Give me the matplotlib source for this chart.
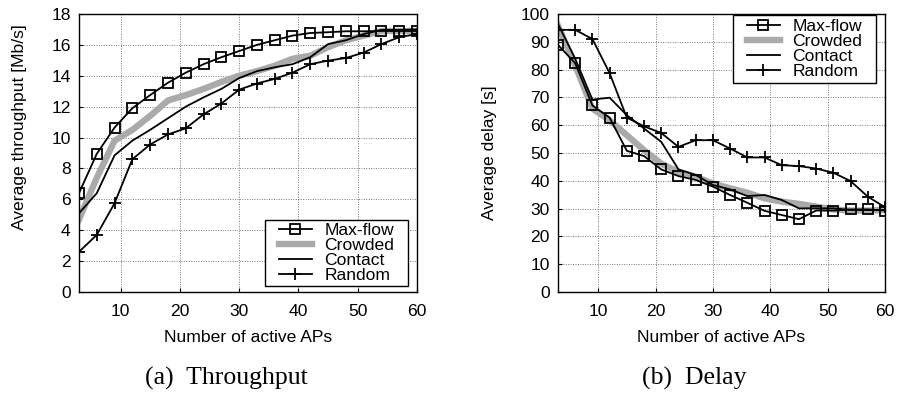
import matplotlib
matplotlib.use("Agg")
import matplotlib.pyplot as plt
from matplotlib.patches import Rectangle

x_aps = [3, 6, 9, 12, 15, 18, 21, 24, 27, 30, 33, 36, 39, 42, 45, 48, 51, 54, 57, 60]

thr_maxflow = [6.4, 8.95, 10.65, 11.9, 12.75, 13.55, 14.2, 14.75, 15.2, 15.6, 16.0, 16.3, 16.6, 16.77, 16.82, 16.88, 16.88, 16.9, 16.9, 16.9]
thr_crowded = [4.7, 7.4, 9.8, 10.5, 11.4, 12.4, 12.75, 13.15, 13.6, 14.0, 14.3, 14.65, 15.1, 15.3, 15.85, 16.3, 16.6, 16.9, 16.9, 16.9]
thr_contact = [5.1, 6.4, 8.85, 9.8, 10.5, 11.25, 12.0, 12.6, 13.15, 13.85, 14.3, 14.55, 14.75, 15.2, 16.05, 16.3, 16.7, 16.97, 16.97, 17.0]
thr_random = [2.6, 3.7, 5.75, 8.6, 9.55, 10.2, 10.6, 11.5, 12.2, 13.1, 13.5, 13.8, 14.2, 14.75, 14.98, 15.15, 15.5, 16.05, 16.5, 16.7]

del_maxflow = [88.9, 82.3, 67.1, 62.7, 50.8, 48.9, 44.1, 41.7, 40.3, 37.9, 34.9, 32.1, 29.2, 27.7, 26.2, 29.3, 29.3, 29.7, 29.7, 29.3]
del_crowded = [95.8, 81.5, 66.0, 61.8, 56.4, 51.0, 46.2, 43.2, 41.5, 39.0, 37.3, 35.7, 33.7, 32.5, 31.7, 30.7, 29.7, 29.3, 29.3, 29.5]
del_contact = [96.4, 83.9, 69.2, 69.9, 63.6, 58.8, 54.0, 44.1, 42.1, 38.5, 36.9, 34.5, 34.9, 33.1, 30.1, 30.1, 30.1, 29.5, 29.5, 29.5]
del_random = [94.3, 94.3, 91.0, 78.7, 62.7, 59.6, 57.2, 52.2, 54.6, 54.6, 51.6, 48.4, 48.4, 45.6, 45.3, 44.4, 42.9, 39.9, 34.3, 30.5]

series_names = ["Max-flow", "Crowded", "Contact", "Random"]
x_ticks = [10, 20, 30, 40, 50, 60]
thr_yticks = list(range(0, 19, 2))
del_yticks = list(range(0, 101, 10))

plt.rcParams["font.family"] = ["Liberation Sans", "DejaVu Sans"]

W, H = 900, 394
fig = plt.figure(figsize=(9, 3.94), dpi=100)
AX_TOP, AX_BOT = 14, 292
HAX = AX_BOT - AX_TOP
ax1 = fig.add_axes([79 / W, 1 - AX_BOT / H, (417 - 79) / W, HAX / H])
ax2 = fig.add_axes([558 / W, 1 - AX_BOT / H, (885 - 558) / W, HAX / H])

FS = 12.6


def draw(ax, data, ylim, yticks, ylabel, ylab_xy, box_px):
    ax.plot(x_aps, data[1], color="#aaaaaa", lw=4.6, label=series_names[1], zorder=2)
    ax.plot(x_aps, data[2], color="black", lw=1.3, label=series_names[2], zorder=3)
    ax.plot(x_aps, data[3], color="black", lw=1.3, marker="+", ms=8, mew=1.3,
            label=series_names[3], zorder=3)
    ax.plot(x_aps, data[0], color="black", lw=1.3, marker="s", ms=6.5, mfc="none",
            mew=1.3, label=series_names[0], zorder=4)
    ax.set_xlim(3, 60)
    ax.set_ylim(*ylim)
    ax.set_xticks(x_ticks)
    ax.set_yticks(yticks)
    ax.grid(True, linestyle=(0, (1, 1.5)), color="#777777", lw=0.7)
    ax.tick_params(direction="in", length=3, labelsize=FS, pad=6, colors="black")
    ax.tick_params(axis="x", pad=9)
    for s in ax.spines.values():
        s.set_linewidth(1.0)
        s.set_zorder(6)
    ax.set_xlabel("Number of active APs", fontsize=FS)
    ax.xaxis.set_label_coords(0.5, -(330 - AX_BOT) / HAX)
    ax.set_ylabel(ylabel, fontsize=FS)
    ax.yaxis.set_label_coords(*ylab_xy)

    # legend frame (drawn separately so its padding matches the original)
    x0, x1, y0, y1 = box_px
    rect = Rectangle((x0 / W, 1 - y1 / H), (x1 - x0) / W, (y1 - y0) / H,
                     transform=fig.transFigure, facecolor="white", edgecolor="black",
                     lw=1.0, zorder=4.5, clip_on=False)
    ax.add_artist(rect)
    h, l = ax.get_legend_handles_labels()
    order = [3, 0, 1, 2]
    leg = ax.legend([h[i] for i in order], [l[i] for i in order], loc="center",
                    bbox_to_anchor=((x0 + x1) / 2 / W, 1 - (y0 + y1) / 2 / H),
                    bbox_transform=fig.transFigure, fontsize=FS, frameon=False,
                    handlelength=1.9, labelspacing=0.0, borderpad=0.0,
                    handletextpad=0.7, borderaxespad=0)
    leg.set_zorder(5)


draw(ax1, [thr_maxflow, thr_crowded, thr_contact, thr_random], (0, 18), thr_yticks,
     "Average throughput [Mb/s]", ((27 - 79) / 338, (AX_BOT - 127) / HAX),
     (265, 408, 220, 286))
draw(ax2, [del_maxflow, del_crowded, del_contact, del_random], (0, 100), del_yticks,
     "Average delay [s]", ((497 - 558) / 327, 0.5),
     (733, 876, 15, 83))

serif = ["Liberation Serif", "DejaVu Serif"]
fig.text(226 / W, 1 - 378 / H, "(a)  Throughput", ha="center", va="center",
         fontsize=18.5, family=serif)
fig.text(694 / W, 1 - 378 / H, "(b)  Delay", ha="center", va="center",
         fontsize=18.5, family=serif)

fig.savefig("out.png", dpi=100)
